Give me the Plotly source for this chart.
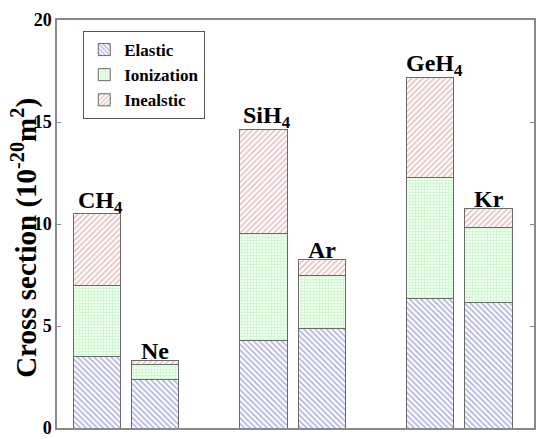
import plotly.graph_objects as go

# Gas labels and their stacked cross-section components (10^-20 m^2)
gases = ["CH<sub>4</sub>", "Ne", "SiH<sub>4</sub>", "Ar", "GeH<sub>4</sub>", "Kr"]
elastic = [3.5, 2.4, 4.3, 4.88, 6.35, 6.15]
ionization = [3.5, 0.7, 5.25, 2.6, 5.95, 3.7]
inelastic = [3.5, 0.2, 5.1, 0.78, 4.9, 0.9]
y_ticks = [0, 5, 10, 15, 20]

# gases come in pairs (molecule, noble gas); space the pairs apart
pair_gap = 2.86
xpos = [(i // 2) * pair_gap + (i % 2) for i in range(len(gases))]

serif = "Liberation Serif"
edge = dict(color="#6a6a6a", width=1)

fig = go.Figure()
fig.add_trace(go.Bar(
    x=xpos, y=elastic, name="Elastic", width=0.81,
    marker=dict(color="white", line=edge,
                pattern=dict(shape="\\", fgcolor="#5f62c0", bgcolor="white",
                             size=4, solidity=0.4)),
))
fig.add_trace(go.Bar(
    x=xpos, y=ionization, name="Ionization", width=0.81,
    marker=dict(color="#e8fde8", line=edge,
                pattern=dict(shape="+", fgcolor="#98e898", bgcolor="#effff0",
                             size=3, solidity=0.35)),
))
fig.add_trace(go.Bar(
    x=xpos, y=inelastic, name="Inealstic", width=0.81,
    marker=dict(color="white", line=edge,
                pattern=dict(shape="/", fgcolor="#c98080", bgcolor="white",
                             size=4, solidity=0.4)),
))

# gas name above each stacked bar; names with a subscript are nudged right
# so the main letters sit centred over the bar
totals = [a + b + c for a, b, c in zip(elastic, ionization, inelastic)]
for x, t, g in zip(xpos, totals, gases):
    fig.add_annotation(x=x, y=t, text=g, showarrow=False,
                       yanchor="bottom", yshift=-5,
                       xshift=4 if "<sub>" in g else 0,
                       font=dict(family=serif, size=24, color="black",
                                 weight="bold"))

# y-axis title drawn as rotated text in the left margin
fig.add_annotation(xref="paper", yref="paper", x=-0.068, y=0.465,
                   xanchor="center", yanchor="middle", textangle=-90,
                   text="Cross section (10<sup>-20</sup>m<sup>2</sup>)",
                   showarrow=False,
                   font=dict(family=serif, size=29, color="black",
                             weight="bold"))

fig.update_layout(
    barmode="stack",
    width=537, height=439,
    margin=dict(l=57, r=1, t=20, b=6),
    paper_bgcolor="white", plot_bgcolor="white",
    showlegend=True,
    legend=dict(x=0.055, y=0.973, xanchor="left", yanchor="top",
                traceorder="normal", bgcolor="white",
                bordercolor="#555555", borderwidth=1,
                font=dict(family=serif, size=17, color="black", weight="bold"),
                itemwidth=30, tracegroupgap=0),
    font=dict(family=serif, color="black"),
)
fig.update_xaxes(range=[-0.68, 7.5], showticklabels=False, ticks="",
                 showgrid=False, zeroline=False,
                 showline=True, linecolor="#8a8a8a", linewidth=1.5, mirror=True)
fig.update_yaxes(range=[0, 20], tickvals=y_ticks,
                 ticktext=[str(v) for v in y_ticks],
                 ticks="inside", ticklen=4, tickcolor="#8a8a8a",
                 tickfont=dict(family=serif, size=18, color="black",
                               weight="bold"),
                 ticklabeloverflow="allow",
                 showgrid=False, zeroline=False,
                 showline=True, linecolor="#8a8a8a", linewidth=1.5, mirror="ticks")

fig.write_html("out.html")
